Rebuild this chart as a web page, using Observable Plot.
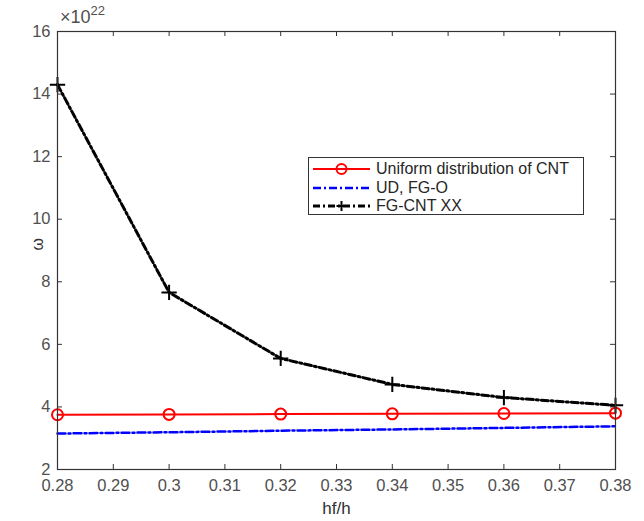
<!DOCTYPE html>
<html>
<head>
<meta charset="utf-8">
<script src="https://cdn.jsdelivr.net/npm/d3@7"></script>
<script src="https://cdn.jsdelivr.net/npm/@observablehq/plot@0.6"></script>
<style>
  body { margin: 0; background: #fff; }
  #wrap { position: relative; width: 644px; height: 521px; font-family: "Liberation Sans", Arial, sans-serif; }
  #exp { position: absolute; left: 60px; top: 3px; font-size: 18px; color: #505050; }
  #exp sup { font-size: 13px; vertical-align: 8px; }
  #legend { position: absolute; left: 308px; top: 157px; width: 276px; height: 58px; border: 1px solid #333; background: #fff; box-sizing: border-box; }
  #legend .row { position: absolute; left: 4px; height: 18px; display: flex; align-items: center; font-size: 16px; color: #262626; }
  #legend svg { margin-right: 6px; }
</style>
</head>
<body>
<div id="wrap">
  <div id="chart"></div>
  <div id="exp">×10<sup>22</sup></div>
  <div id="legend"></div>
</div>
<script>
const hf = [0.28, 0.30, 0.32, 0.34, 0.36, 0.38];
const uniformCNT = [3.75, 3.76, 3.77, 3.78, 3.79, 3.80];
const udFGO = [3.15, 3.19, 3.24, 3.28, 3.33, 3.38];
const fgCNTXX = [14.3, 7.66, 5.55, 4.72, 4.30, 4.05];
const seriesNames = ["Uniform distribution of CNT", "UD, FG-O", "FG-CNT XX"];
const xTicks = [0.28, 0.29, 0.30, 0.31, 0.32, 0.33, 0.34, 0.35, 0.36, 0.37, 0.38];
const yTicks = [2, 4, 6, 8, 10, 12, 14, 16];

const colors = ["#ff0000", "#0000ff", "#000000"];
const dashes = [null, "8,3,2,3", "7,3,2,3"];

const rows = (vals) => hf.map((x, i) => ({x, y: vals[i]}));
const red = rows(uniformCNT), blue = rows(udFGO), black = rows(fgCNTXX);

const xLen = 0.1 * 5 / 558, yLen = 14 * 5 / 438;
const axisColor = "#333333";
const labelColor = "#505050";

const chart = Plot.plot({
  width: 644, height: 521,
  marginLeft: 57, marginRight: 29, marginTop: 31, marginBottom: 52,
  style: {fontFamily: "Liberation Sans, Arial, sans-serif", fontSize: "16px", color: labelColor, background: "#fff"},
  x: {domain: [0.28, 0.38], ticks: xTicks},
  y: {domain: [2, 16], ticks: yTicks},
  marks: [
    Plot.ruleX(xTicks, {x: d => d, y1: 2, y2: 2 + yLen, stroke: axisColor}),
    Plot.ruleX(xTicks, {x: d => d, y1: 16, y2: 16 - yLen, stroke: axisColor}),
    Plot.ruleY(yTicks, {y: d => d, x1: 0.28, x2: 0.28 + xLen, stroke: axisColor}),
    Plot.ruleY(yTicks, {y: d => d, x1: 0.38, x2: 0.38 - xLen, stroke: axisColor}),
    Plot.axisX(xTicks, {tickSize: 0, tickPadding: 10, fontSize: 16.5, fill: labelColor, tickFormat: d => String(+d.toFixed(2)), label: null}),
    Plot.axisY(yTicks, {tickSize: 0, tickPadding: 7, fontSize: 16.5, fill: labelColor, label: null}),
    Plot.text(["hf/h"], {frameAnchor: "bottom", lineAnchor: "middle", dy: 39, fontSize: 17, fill: "#303030"}),
    Plot.text(["ω"], {frameAnchor: "left", dx: -20, rotate: -90, fontSize: 16, fill: "#303030"}),
    Plot.line(blue, {x: "x", y: "y", stroke: colors[1], strokeWidth: 2.5, strokeDasharray: dashes[1]}),
    Plot.line(red, {x: "x", y: "y", stroke: colors[0], strokeWidth: 2}),
    Plot.dot(red, {x: "x", y: "y", r: 5.5, stroke: colors[0], strokeWidth: 2, fill: "none"}),
    Plot.line(black, {x: "x", y: "y", stroke: colors[2], strokeWidth: 3, strokeDasharray: dashes[2]}),
    Plot.dot(black, {x: "x", y: "y", symbol: "plus", r: 5, stroke: colors[2], strokeWidth: 2}),
    Plot.frame({stroke: axisColor, strokeWidth: 1.2})
  ]
});
document.getElementById("chart").appendChild(chart);

const legend = document.getElementById("legend");
seriesNames.forEach((name, i) => {
  const row = document.createElement("div");
  row.className = "row";
  row.style.top = (2 + i * 18.5) + "px";
  const w = 57;
  let sample = `<svg width="${w}" height="14"><line x1="0" x2="${w}" y1="7" y2="7" stroke="${colors[i]}" stroke-width="${i === 0 ? 2 : i === 1 ? 2.5 : 3}" ${dashes[i] ? `stroke-dasharray="${dashes[i]}"` : ""}/>`;
  if (i === 0) sample += `<circle cx="${w/2}" cy="7" r="5" fill="none" stroke="${colors[i]}" stroke-width="2"/>`;
  if (i === 2) sample += `<path d="M${w/2-5},7H${w/2+5}M${w/2},2V12" stroke="#000" stroke-width="2"/>`;
  sample += `</svg>`;
  row.innerHTML = sample + `<span>${name}</span>`;
  legend.appendChild(row);
});
</script>
</body>
</html>
